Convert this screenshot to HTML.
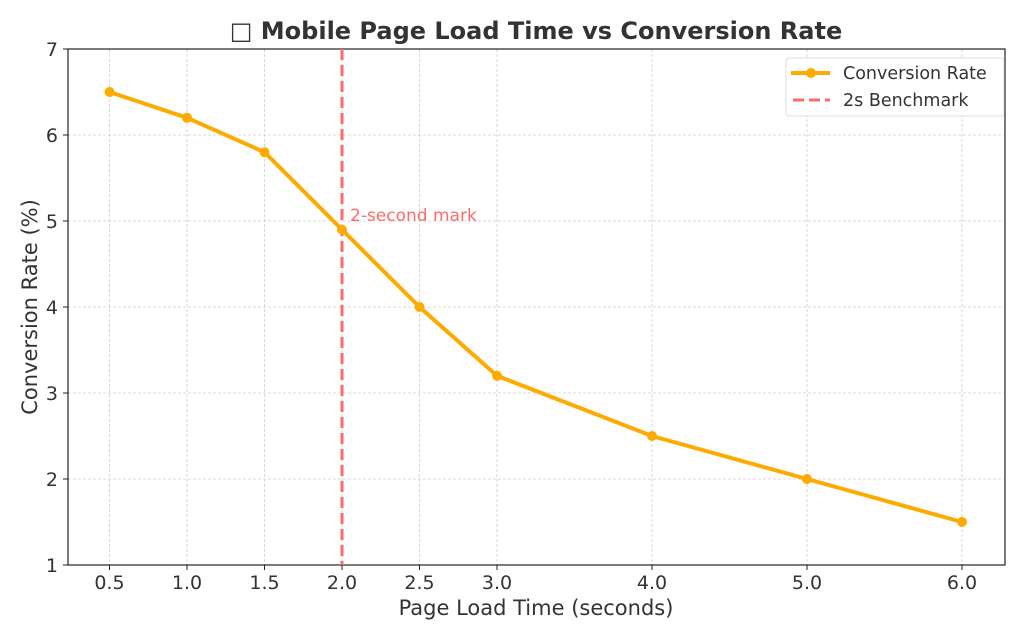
<!DOCTYPE html>
<html><head><meta charset="utf-8"><style>
html,body{margin:0;padding:0;background:#fff;}
svg{display:block;font-family:"DejaVu Sans","Liberation Sans",sans-serif;}
</style></head><body>
<svg width="1024" height="640" viewBox="0 0 1024 640" xmlns="http://www.w3.org/2000/svg">
<rect width="1024" height="640" fill="#fff"/>
<text x="536" y="39" text-anchor="middle" font-size="24" font-weight="bold" fill="#333">□ Mobile Page Load Time vs Conversion Rate</text>
<g stroke="#ccc" stroke-width="0.8" stroke-dasharray="3,2">
<line x1="109.5" y1="49" x2="109.5" y2="565"/><line x1="187" y1="49" x2="187" y2="565"/><line x1="264.5" y1="49" x2="264.5" y2="565"/><line x1="342" y1="49" x2="342" y2="565"/><line x1="419.5" y1="49" x2="419.5" y2="565"/><line x1="497" y1="49" x2="497" y2="565"/><line x1="652" y1="49" x2="652" y2="565"/><line x1="807" y1="49" x2="807" y2="565"/><line x1="962" y1="49" x2="962" y2="565"/>
<line x1="68" y1="135" x2="1005" y2="135"/><line x1="68" y1="221" x2="1005" y2="221"/><line x1="68" y1="307" x2="1005" y2="307"/><line x1="68" y1="393" x2="1005" y2="393"/><line x1="68" y1="479" x2="1005" y2="479"/>
</g>
<rect x="68" y="49" width="937" height="516" fill="none" stroke="#222" stroke-width="1.2"/>
<g stroke="#222"><line x1="109.5" y1="565" x2="109.5" y2="570"/><line x1="187" y1="565" x2="187" y2="570"/><line x1="264.5" y1="565" x2="264.5" y2="570"/><line x1="342" y1="565" x2="342" y2="570"/><line x1="419.5" y1="565" x2="419.5" y2="570"/><line x1="497" y1="565" x2="497" y2="570"/><line x1="652" y1="565" x2="652" y2="570"/><line x1="807" y1="565" x2="807" y2="570"/><line x1="962" y1="565" x2="962" y2="570"/>
<line x1="63" y1="49" x2="68" y2="49"/><line x1="63" y1="135" x2="68" y2="135"/><line x1="63" y1="221" x2="68" y2="221"/><line x1="63" y1="307" x2="68" y2="307"/><line x1="63" y1="393" x2="68" y2="393"/><line x1="63" y1="479" x2="68" y2="479"/><line x1="63" y1="565" x2="68" y2="565"/></g>
<g font-size="19" fill="#333" text-anchor="middle">
<text x="109.5" y="589">0.5</text><text x="187" y="589">1.0</text><text x="264.5" y="589">1.5</text><text x="342" y="589">2.0</text><text x="419.5" y="589">2.5</text><text x="497" y="589">3.0</text><text x="652" y="589">4.0</text><text x="807" y="589">5.0</text><text x="962" y="589">6.0</text>
</g>
<g font-size="19" fill="#333" text-anchor="end">
<text x="58" y="56">7</text><text x="58" y="142">6</text><text x="58" y="228">5</text><text x="58" y="314">4</text><text x="58" y="400">3</text><text x="58" y="486">2</text><text x="58" y="572">1</text>
</g>
<text x="536" y="615" text-anchor="middle" font-size="21" fill="#333">Page Load Time (seconds)</text>
<text transform="translate(37,307) rotate(-90)" text-anchor="middle" font-size="21" fill="#333">Conversion Rate (%)</text>
<line x1="342" y1="49" x2="342" y2="565" stroke="#ff6b6b" stroke-width="3" stroke-dasharray="11,5"/>
<text x="350" y="221" font-size="17" fill="#ff6b6b">2-second mark</text>
<polyline fill="none" stroke="#ffaa00" stroke-width="4" stroke-linejoin="round" points="109.5,92 187,117.8 264.5,152.2 342,229.6 419.5,307 497,375.8 652,436 807,479 962,522"/>
<g fill="#ffaa00"><circle cx="109.5" cy="92" r="5"/><circle cx="187" cy="117.8" r="5"/><circle cx="264.5" cy="152.2" r="5"/><circle cx="342" cy="229.6" r="5"/><circle cx="419.5" cy="307" r="5"/><circle cx="497" cy="375.8" r="5"/><circle cx="652" cy="436" r="5"/><circle cx="807" cy="479" r="5"/><circle cx="962" cy="522" r="5"/></g>
<rect x="786" y="58" width="218" height="58" rx="3" fill="#fff" fill-opacity="0.9" stroke="#ddd"/>
<line x1="791" y1="73" x2="830" y2="73" stroke="#ffaa00" stroke-width="4"/><circle cx="811" cy="73" r="5" fill="#ffaa00"/>
<text x="843" y="79" font-size="17.5" fill="#333">Conversion Rate</text>
<line x1="793" y1="100" x2="830" y2="100" stroke="#ff6b6b" stroke-width="3" stroke-dasharray="11,5"/>
<text x="843" y="106" font-size="17.5" fill="#333">2s Benchmark</text>
</svg>
</body></html>
